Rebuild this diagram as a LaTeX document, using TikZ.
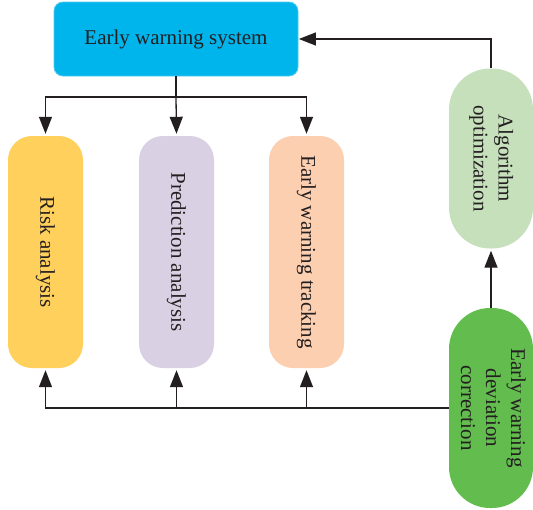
\documentclass[tikz,border=0pt]{standalone}
\usepackage{fontspec}
\setmainfont{Liberation Serif}
\usetikzlibrary{arrows.meta}
\definecolor{ink}{HTML}{231F20}
\definecolor{syscol}{HTML}{00B5EC}
\definecolor{sysedge}{HTML}{4FCBEF}
\definecolor{riskcol}{HTML}{FFD05C}
\definecolor{predcol}{HTML}{DAD0E3}
\definecolor{trackcol}{HTML}{FCCFB0}
\definecolor{algocol}{HTML}{C6E0BC}
\definecolor{corrcol}{HTML}{63BC4E}
\begin{document}
\begin{tikzpicture}[x=1pt,y=-1pt,
  every node/.style={text=ink,font=\fontsize{21}{25}\selectfont,inner sep=0pt},
  box/.style={rectangle,anchor=center},
  column/.style={box,minimum width=75pt,minimum height=232pt,rounded corners=24pt},
  pill/.style={box,minimum width=84pt,rounded corners=41pt},
  tip/.tip={Triangle[length=17pt,width=13pt]},
  arr/.style={draw=ink,line width=1.3pt,-tip,shorten >=2pt},
  wire/.style={draw=ink,line width=1.3pt}]
\useasboundingbox (0,0) rectangle (533,509);

% top block
\node[box,fill=syscol,draw=sysedge,line width=0.8pt,rounded corners=9pt,
  minimum width=244pt,minimum height=74pt] (sys) at (176,39) {Early warning system};

% three analysis columns
\node[column,fill=riskcol]  (risk)  at (45.5,252)  {\rotatebox{-90}{Risk analysis}};
\node[column,fill=predcol]  (pred)  at (176.5,252) {\rotatebox{-90}{Prediction analysis}};
\node[column,fill=trackcol] (track) at (306.5,252) {\rotatebox{-90}{Early warning tracking}};

% right-hand feedback blocks
\node[pill,fill=algocol,minimum height=180pt] (algo) at (491,158.5)
  {\rotatebox{-90}{\begin{tabular}{@{}c@{}}Algorithm\\optimization\end{tabular}}};
\node[pill,fill=corrcol,minimum height=200pt] (corr) at (491,408)
  {\rotatebox{-90}{\begin{tabular}{@{}c@{}}Early warning\\deviation\\correction\end{tabular}}};

% distribution from the top block
\coordinate (split) at (176,97);
\draw[wire] (sys.south) -- (split);
\draw[arr] (split) -| (risk.north);
\draw[arr] (split) -- (pred.north);
\draw[arr] (split) -| (track.north);

% feedback from the correction block
\draw[arr] (corr.west) -| (risk.south);
\draw[arr] (pred.south |- corr.west) -- (pred.south);
\draw[arr] (track.south |- corr.west) -- (track.south);
\draw[arr] (corr.north) -- (algo.south);
\draw[arr,shorten >=0.5pt] (algo.north) |- (sys.east);
\end{tikzpicture}
\end{document}
